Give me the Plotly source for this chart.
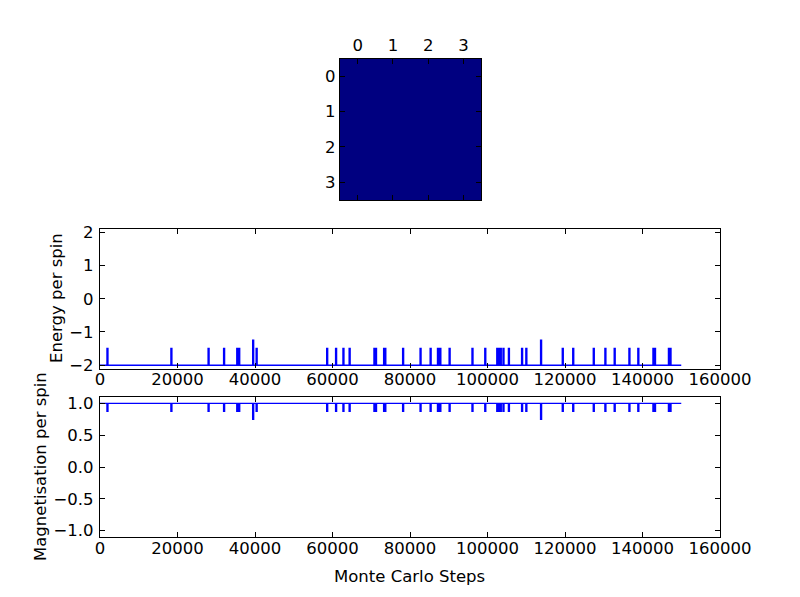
import plotly.graph_objects as go

# final 4x4 spin lattice (all aligned)
spins = [[1, 1, 1, 1],
         [1, 1, 1, 1],
         [1, 1, 1, 1],
         [1, 1, 1, 1]]
lattice_ticks = [0, 1, 2, 3]

total_steps = 150000
ground_energy = -2.0
ground_mag = 1.0
pulse_len = 250

# short excursions away from the ground state
spike_steps = [1800, 18300, 27900, 31900, 35300, 35800, 39400, 40300,
               58500, 60800, 62700, 64300, 70700, 71100, 73200, 73500,
               78100, 82600, 85200, 87100, 87700, 90100, 96000, 99300,
               102400, 103000, 103300, 104000, 105400, 108800, 109900,
               113700, 119300, 122000, 127300, 130300, 132700, 136500,
               138800, 142700, 143100, 146700, 147100]
spike_energy = [-1.5, -1.5, -1.5, -1.5, -1.5, -1.5, -1.25, -1.5,
                -1.5, -1.5, -1.5, -1.5, -1.5, -1.5, -1.5, -1.5,
                -1.5, -1.5, -1.5, -1.5, -1.5, -1.5, -1.5, -1.5,
                -1.5, -1.5, -1.5, -1.5, -1.5, -1.5, -1.5,
                -1.25, -1.5, -1.5, -1.5, -1.5, -1.5, -1.5,
                -1.5, -1.5, -1.5, -1.5, -1.5]
spike_mag = [0.875, 0.875, 0.875, 0.875, 0.875, 0.875, 0.75, 0.875,
             0.875, 0.875, 0.875, 0.875, 0.875, 0.875, 0.875, 0.875,
             0.875, 0.875, 0.875, 0.875, 0.875, 0.875, 0.875, 0.875,
             0.875, 0.875, 0.875, 0.875, 0.875, 0.875, 0.875,
             0.75, 0.875, 0.875, 0.875, 0.875, 0.875, 0.875,
             0.875, 0.875, 0.875, 0.875, 0.875]

steps = [0]
energy = [ground_energy]
mag = [ground_mag]
for s, e, m in zip(spike_steps, spike_energy, spike_mag):
    steps += [s, s + pulse_len]
    energy += [e, ground_energy]
    mag += [m, ground_mag]
steps.append(total_steps)
energy.append(ground_energy)
mag.append(ground_mag)

W, H = 800, 597
PAGE_OFFSET = 8  # default body margin of the html page
FONT = dict(family="DejaVu Sans", size=16.5, color="black")


def px_x(p):
    return (p - PAGE_OFFSET) / W


def px_y(p):
    return 1 - (p - PAGE_OFFSET) / H


fig = go.Figure()

fig.add_trace(go.Heatmap(z=spins, x=lattice_ticks, y=lattice_ticks,
                         colorscale=[[0, "#000080"], [1, "#000080"]],
                         zmin=1, zmax=2, showscale=False,
                         xaxis="x", yaxis="y"))
fig.add_trace(go.Scatter(x=steps, y=energy, mode="lines", line_shape="hv",
                         line=dict(color="#0000ff", width=1.4),
                         xaxis="x2", yaxis="y2", showlegend=False))
fig.add_trace(go.Scatter(x=steps, y=mag, mode="lines", line_shape="hv",
                         line=dict(color="#0000ff", width=1.4),
                         xaxis="x3", yaxis="y3", showlegend=False))

axis_common = dict(showline=True, linecolor="black", linewidth=1.3,
                   mirror="ticks", ticks="inside", ticklen=5, tickwidth=1,
                   tickcolor="black", showgrid=False, zeroline=False,
                   automargin=False, tickfont=FONT)

label_common = dict(xref="paper", yref="paper", showarrow=False, font=FONT,
                    xanchor="center", yanchor="middle")

fig.update_layout(
    template="none",
    width=W, height=H,
    margin=dict(l=0, r=0, t=0, b=0),
    paper_bgcolor="white", plot_bgcolor="white",
    showlegend=False,
    xaxis=dict(axis_common, domain=[px_x(340), px_x(481)], anchor="y",
               side="top", range=[-0.5, 3.5], tickvals=lattice_ticks),
    yaxis=dict(axis_common, domain=[px_y(200), px_y(58.5)], anchor="x",
               range=[3.5, -0.5], tickvals=lattice_ticks),
    xaxis2=dict(axis_common, domain=[px_x(100), px_x(720)], anchor="y2",
                range=[0, 160000], dtick=20000, tickformat="d",
                ticklabelstandoff=-4),
    yaxis2=dict(axis_common, domain=[px_y(368.5), px_y(229)], anchor="x2",
                range=[-2.1, 2.1], dtick=1, tickformat="d",
                ticklabelstandoff=2),
    xaxis3=dict(axis_common, domain=[px_x(100), px_x(720)], anchor="y3",
                range=[0, 160000], dtick=20000, tickformat="d",
                ticklabelstandoff=-4),
    yaxis3=dict(axis_common, domain=[px_y(537), px_y(397)], anchor="x3",
                range=[-1.1, 1.1], dtick=0.5, tickformat=".1f",
                ticklabelstandoff=2),
    annotations=[
        dict(label_common, text="Energy per spin", textangle=-90,
             x=px_x(56.5), y=px_y(298.5)),
        dict(label_common, text="Magnetisation per spin", textangle=-90,
             x=px_x(40), y=px_y(467)),
        dict(label_common, text="Monte Carlo Steps",
             x=px_x(409.5), y=px_y(576)),
    ],
)

fig.write_html("out.html")
